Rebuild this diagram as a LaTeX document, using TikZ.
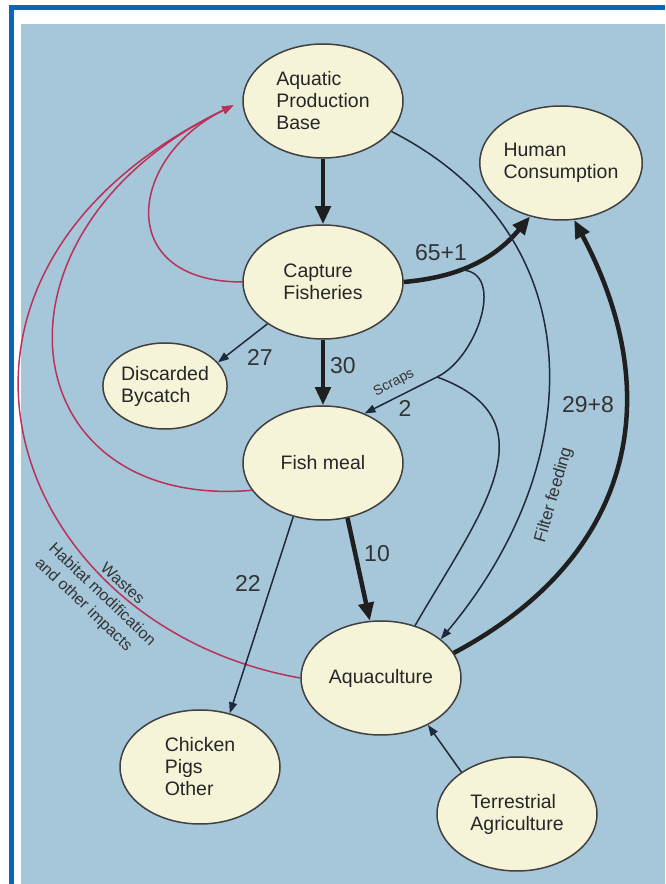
\documentclass[tikz,border=0pt]{standalone}
\usepackage{fontspec}
\setmainfont{Liberation Sans}
\usetikzlibrary{shapes.geometric,arrows.meta}
\definecolor{bgblue}{HTML}{A6C6DA}
\definecolor{frameblue}{HTML}{0A67B5}
\definecolor{cream}{HTML}{F6F4D8}
\definecolor{inkline}{HTML}{1E2B38}
\definecolor{wastered}{HTML}{B8325A}

\begin{document}
\begin{tikzpicture}[x=1pt,y=1pt,
		pool/.style={ellipse, draw=black!75, line width=1.5pt, fill=cream, minimum width=160pt, minimum height=114pt, inner sep=0pt, align=left, text=black!85, font=\fontsize{19.5}{22}\selectfont},
		bigflow/.style={line width=4.5pt, draw=black!88, -{Triangle[length=18pt,width=15pt]}},
		feedline/.style={line width=1.5pt, draw=inkline},
		smallflow/.style={feedline, -{Triangle[length=11pt,width=8pt]}},
		impact/.style={line width=1.5pt, draw=wastered, -{Triangle[length=11pt,width=8pt]}, shorten >=10pt},
		amount/.style={font=\fontsize{23}{23}\selectfont, text=black!80},
		tag/.style={font=\fontsize{16}{20}\selectfont, text=black!80}]
		% Frame and background
		\useasboundingbox (0,0) rectangle (665,884);
		\fill[white] (0,0) rectangle (665,884);
		\fill[frameblue] (9,0) rectangle (14,879);
		\fill[frameblue] (9,874) rectangle (665,879);
		\fill[bgblue] (21,0) rectangle (665,860);
		% Draw pools
		\node[pool] (aqp) at (323,783) {Aquatic\\Production\\Base};
		\node[pool] (hum) at (561,721) {Human\\Consumption};
		\node[pool] (cap) at (323,602) {Capture\\Fisheries};
		\node[pool, minimum width=122pt, minimum height=86pt] (byc) at (165,498) {Discarded\\Bycatch};
		\node[pool] (fis) at (323,421) {Fish meal};
		\node[pool] (aqu) at (381,206) {Aquaculture};
		\node[pool] (chk) at (200,117) {Chicken\\Pigs\\Other};
		\node[pool] (ter) at (517,70) {Terrestrial\\Agriculture};
		% Points where scraps join
		\coordinate (scr) at (463,614);
		\coordinate (mrg) at (437,507);
		% Wastes and impacts
		\draw[impact] (cap.west) .. controls (113,602) and (128,727) .. (aqp.west);
		\draw[impact] (fis.201) .. controls (10,373) and (-27,652) .. (aqp.west);
		\draw[impact] (aqu.west) .. controls (6,258) and (-117,608) ..
			node[tag, pos=0.25, sloped, above, inner sep=3pt] (wsl) {Wastes}
			node[tag, pos=0.26, sloped, below, align=left, inner sep=5pt] (hbl) {Habitat modification\\and other impacts}
			(aqp.west);
		% Main flows
		\draw[bigflow] (aqp.south) -- (cap.north);
		\draw[bigflow] (cap.east) to[out=5,in=230] (hum.240);
		\draw[bigflow] (cap.south) -- (fis.north);
		\draw[bigflow] (fis.-66) -- (aqu.101);
		\draw[bigflow] (aqu.19) to[out=28,in=-62,looseness=1.15] (hum.283);
		% Smaller flows
		\draw[smallflow] (cap.217) -- (byc.24);
		\draw[smallflow] (scr) to[out=-5,in=25] (mrg) -- (fis.50);
		\draw[feedline] (aqu.57) to[out=60,in=-20,looseness=1.3] (mrg);
		\draw[smallflow] (aqp.-24) to[out=-27,in=50,looseness=1.15] (aqu.33);
		\draw[smallflow] (fis.241) -- (chk.61);
		\draw[smallflow] (ter.143) -- (aqu.-45);
		% Amounts
		\node[amount] (n65) at (441,631) {65+1};
		\node[amount] (n27) at (260,527) {27};
		\node[amount] (n30) at (343,518) {30};
		\node[amount] (n2) at (405,476) {2};
		\node[amount] (n10) at (377,330) {10};
		\node[amount] (n22) at (248,301) {22};
		\node[amount] (n29) at (588,479) {29+8};
		% Labels on lines
		\node[tag, font=\fontsize{14}{14}\selectfont, rotate=28] (scl) at (394,501) {Scraps};
		\node[tag, font=\fontsize{17}{22}\selectfont, rotate=74] (ffl) at (554,389) {Filter feeding};
\end{tikzpicture}
\end{document}
